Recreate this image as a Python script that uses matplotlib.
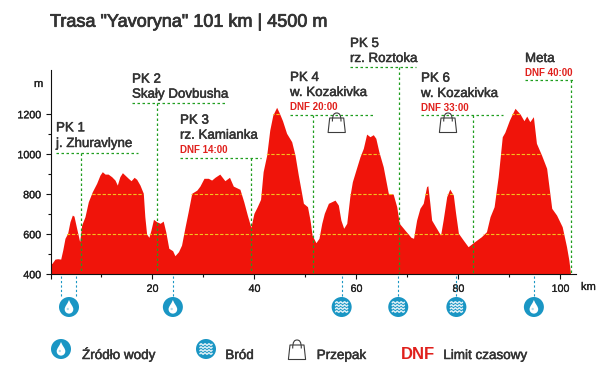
import numpy as np
import matplotlib
matplotlib.use("Agg")
import matplotlib.pyplot as plt
import matplotlib.patheffects as pe
from matplotlib.patches import Circle, PathPatch, Polygon
from matplotlib.path import Path

plt.rcParams['font.family'] = ['Liberation Sans', 'DejaVu Sans']

profile_km = [0.0, 0.3, 0.88, 1.4, 2.0, 2.4, 2.84, 3.36, 3.82, 4.28, 4.6, 5.13, 5.72, 6.11, 6.76, 7.42, 8.2, 9.05,
              9.7, 10.16, 10.7, 11.3, 12.0, 12.65, 13.1, 13.6, 14.1, 14.6, 15.26, 15.8, 16.4, 16.9, 17.55, 18.2,
              18.5, 18.85, 19.3, 19.7, 20.2, 20.8, 21.5, 22.1, 22.6, 23.2, 23.95, 24.4, 25.1, 25.7, 26.4, 27.0,
              27.7, 28.7, 29.3, 30.1, 30.95, 31.6, 32.25, 33.2, 34.2, 35.1, 35.85, 37.15, 37.9, 38.6, 39.3, 39.9,
              40.55, 41.2, 41.7, 42.4, 43.0, 43.6, 44.35, 44.9, 45.5, 46.3, 47.3, 47.95, 48.6, 49.25, 49.6, 50.4,
              50.9, 51.3, 52.05, 52.65, 53.2, 53.7, 54.5, 55.8, 56.45, 56.95, 57.5, 58.1, 58.7, 59.2, 60.0, 60.7,
              61.35, 62.0, 62.65, 63.3, 63.8, 64.4, 65.25, 66.25, 67.2, 67.9, 68.4, 69.5, 70.7, 71.2, 71.8, 72.45,
              73.1, 73.75, 74.0, 74.4, 74.75, 75.7, 76.5, 77.0, 77.7, 78.3, 79.0, 79.45, 80.0, 80.95, 81.9, 82.9,
              84.5, 85.5, 86.2, 87.0, 87.8, 88.6, 89.1, 90.0, 91.1, 92.1, 92.85, 93.4, 94.0, 94.7, 95.3, 96.3,
              97.3, 98.3, 99.25, 100.35, 101.2, 101.66, 102.0]
profile_m = [450, 455, 476, 478, 476, 521, 580, 605, 663, 696, 691, 630, 563, 646, 688, 763, 813, 855,
             896, 913, 901, 901, 888, 871, 846, 888, 908, 896, 880, 868, 885, 875, 846, 805,
             688, 601, 585, 621, 675, 663, 655, 666, 613, 530, 518, 493, 513, 546, 638, 713,
             805, 821, 841, 880, 880, 871, 885, 901, 868, 885, 841, 825, 763, 696, 635, 705,
             738, 775, 913, 996, 1121, 1196, 1235, 1205, 1168, 1105, 1063, 996, 896, 805, 755, 738,
             671, 596, 558, 580, 655, 705, 755, 771, 746, 671, 630, 655, 788, 863, 930, 988,
             1030, 1101, 1088, 1098, 1080, 1013, 938, 805, 801, 738, 655, 621, 585, 580, 671, 730,
             755, 838, 843, 755, 671, 630, 596, 671, 788, 826, 796, 705, 605, 571, 538, 558,
             588, 613, 688, 738, 888, 1088, 1110, 1171, 1230, 1201, 1168, 1191, 1163, 1188, 1055, 996,
             930, 730, 696, 638, 538, 471, 400]

title = 'Trasa "Yavoryna" 101 km | 4500 m'
grid_levels = [600, 800, 1000, 1200]
y_major = [400, 600, 800, 1000, 1200]
y_minor = [500, 700, 900, 1100]
x_major = [0, 20, 40, 60, 80, 100]
x_minor = [10, 30, 50, 70, 90]
x_labels = ['', '20', '40', '60', '80', '100']

checkpoint_km = [5.9, 20.8, 39.4, 51.5, 68.4, 82.9, 102.0]
checkpoint_names = ['PK 1', 'PK 2', 'PK 3', 'PK 4', 'PK 5', 'PK 6', 'Meta']
checkpoint_places = ['j. Zhuravlyne', 'Skały Dovbusha', 'rz. Kamianka', 'w. Kozakivka', 'rz. Roztoka', 'w. Kozakivka', '']
checkpoint_dnf = ['', '', 'DNF 14:00', 'DNF 20:00', '', 'DNF 33:00', 'DNF 40:00']
cp_left = [56, 132, 180, 290, 350, 421, 525]
cp_right = [138, 226, 261, 374, 416, 503, 575]
cp_rule = [152.7, 103.3, 158.3, 115.3, 67.3, 115.3, 80.3]

water_km = [2.1, 5.0, 24.0, 94.8]
ford_km = [57.1, 68.2, 79.6]

INK = '#333333'
RED = '#f0140a'
DNFRED = '#e0201c'
GREEN = '#1f9e1f'
BLUE = '#1a96c4'
YEL = '#f4c21e'


def heavy(color, w=0.3):
    return [pe.withStroke(linewidth=w, foreground=color)]


fig = plt.figure(figsize=(6, 3.7), dpi=100, facecolor='white')
L, R, B, T = 50.5, 575.7, 274.3, 70.0
ax = fig.add_axes([L/600, 1-B/370, (R-L)/600, (B-T)/370])
ax.set_xlim(0, 103)
ax.set_ylim(400, 1421.5)
ax.patch.set_alpha(0)
for s in ('top', 'right'):
    ax.spines[s].set_visible(False)
for s in ('left', 'bottom'):
    ax.spines[s].set_linewidth(0.8)
    ax.spines[s].set_color('#111111')

ax.fill_between(profile_km, 400, profile_m, color=RED, lw=0, zorder=2)
poly = Polygon(np.column_stack([[profile_km[0]] + profile_km + [profile_km[-1]],
                                [400] + profile_m + [400]]),
               closed=True, transform=ax.transData, facecolor='none', edgecolor='none')
ax.add_patch(poly)
for lev in grid_levels:
    ln, = ax.plot([0, 103], [lev, lev], color=YEL, lw=0.8, ls=(0, (3, 1.6)), zorder=3)
    ln.set_clip_path(poly)

ax.set_xticks(x_major, x_labels)
ax.set_xticks(x_minor, minor=True)
ax.set_yticks(y_major)
ax.set_yticks(y_minor, minor=True)
ax.tick_params(axis='both', which='major', length=3.4, width=0.8, color='#111111', labelsize=7.7,
               labelcolor='#222222', pad=3.5)
ax.tick_params(axis='both', which='minor', length=2.1, width=0.8, color='#111111')
for t in ax.get_xticklabels() + ax.get_yticklabels():
    t.set_path_effects(heavy('#222222', 0.2))

ov = fig.add_axes([0, 0, 1, 1])
ov.set_xlim(0, 600)
ov.set_ylim(370, 0)
ov.axis('off')
ov.patch.set_alpha(0)


def km_px(k):
    return L + k * (R - L) / 103


def water(cx, cy, r=10):
    ov.add_patch(Circle((cx, cy), r, fc=BLUE, ec='none', zorder=5))
    v = [(cx, cy-7), (cx+1.5, cy-3), (cx+4.3, cy-0.5), (cx+4.3, cy+2.2), (cx+4.3, cy+5.2), (cx+2, cy+6.6), (cx, cy+6.6),
         (cx-2, cy+6.6), (cx-4.3, cy+5.2), (cx-4.3, cy+2.2), (cx-4.3, cy-0.5), (cx-1.5, cy-3), (cx, cy-7)]
    c = [Path.MOVETO] + [Path.CURVE4] * 12
    ov.add_patch(PathPatch(Path(v, c), fc='white', ec='none', zorder=6))
    ov.add_patch(Circle((cx-1.2, cy+2), 1.2, fc=BLUE, ec='none', zorder=7, alpha=.35))


def ford(cx, cy, r=10):
    ov.add_patch(Circle((cx, cy), r, fc=BLUE, ec='none', zorder=5))
    xs = np.linspace(-6.5, 6.5, 40)
    for dy in (-4.5, -1.5, 1.5, 4.5):
        ov.plot(cx + xs, cy + dy + 0.7*np.sin(xs*1.6), color='white', lw=1.0, zorder=6, solid_capstyle='butt', alpha=.9)


def bag(cx, top):
    bt = top + 5
    bb = top + 19.5
    ov.add_patch(Polygon([(cx-7, bt), (cx+7, bt), (cx+8.6, bb), (cx-8.6, bb)], closed=True, fc='white',
                         ec='#3c3c3c', lw=0.8, zorder=6, joinstyle='round'))
    v = [(cx-4.3, top+8.5), (cx-4.3, top+1.5), (cx-2.5, top), (cx, top), (cx+2.5, top), (cx+4.3, top+1.5), (cx+4.3, top+8.5)]
    c = [Path.MOVETO] + [Path.CURVE4] * 6
    ov.add_patch(PathPatch(Path(v, c), fc='none', ec='#3c3c3c', lw=0.8, zorder=7))


dots = (0, (2, 2))
for k, l, r, y in zip(checkpoint_km, cp_left, cp_right, cp_rule):
    ov.plot([l, r], [y, y], color=GREEN, lw=0.9, ls=dots, zorder=4)
    ov.plot([km_px(k)] * 2, [y, B-1], color=GREEN, lw=0.9, ls=dots, zorder=4)

name_y = [131.3, 82.7, 123.7, 81, 47, 81.7, 62]
place_y = [147, 97.7, 138.7, 96, 62, 97, None]
dnf_y = [None, None, 153, 110, None, 111, 76]
lab = heavy(INK, 0.35)
for i, name in enumerate(checkpoint_names):
    x = cp_left[i]
    ov.text(x, name_y[i], name, fontsize=9.6, color=INK, va='baseline', ha='left', path_effects=lab)
    if checkpoint_places[i]:
        ov.text(x, place_y[i], checkpoint_places[i], fontsize=9.6, color=INK, va='baseline', ha='left', path_effects=lab)
    if checkpoint_dnf[i]:
        ov.text(x, dnf_y[i], checkpoint_dnf[i], fontsize=7, color=DNFRED, va='baseline', ha='left', weight='bold')

ov.text(50, 26.7, title, fontsize=13.0, color=INK, va='baseline', ha='left', path_effects=heavy(INK, 0.55))
ov.text(34, 87, 'm', fontsize=8, color='#222222', va='baseline', path_effects=heavy('#222222', 0.2))
ov.text(581, 290, 'km', fontsize=8, color='#222222', va='baseline', path_effects=heavy('#222222', 0.2))

icon_y = 307
for k in water_km + ford_km:
    ov.plot([km_px(k)] * 2, [B+2, 296], color=BLUE, lw=0.8, ls=dots, zorder=4)
water(69, icon_y)
water(km_px(water_km[2]), icon_y)
water(km_px(water_km[3]), icon_y)
for k in ford_km:
    ford(km_px(k), icon_y)

bag(336.7, 113)
bag(448, 113)

water(61, 349)
ford(206, 349)
bag(297, 340)
ov.text(82, 359, 'Źródło wody', fontsize=9.7, color=INK, va='baseline', path_effects=lab)
ov.text(225.3, 359, 'Bród', fontsize=9.7, color=INK, va='baseline', path_effects=lab)
ov.text(316.7, 359, 'Przepak', fontsize=9.7, color=INK, va='baseline', path_effects=lab)
ov.text(400.7, 358.7, 'DNF', fontsize=12, color=DNFRED, va='baseline', weight='bold')
ov.text(443.3, 359, 'Limit czasowy', fontsize=9.7, color=INK, va='baseline', path_effects=lab)

fig.savefig('out.png', dpi=100, facecolor='white')
